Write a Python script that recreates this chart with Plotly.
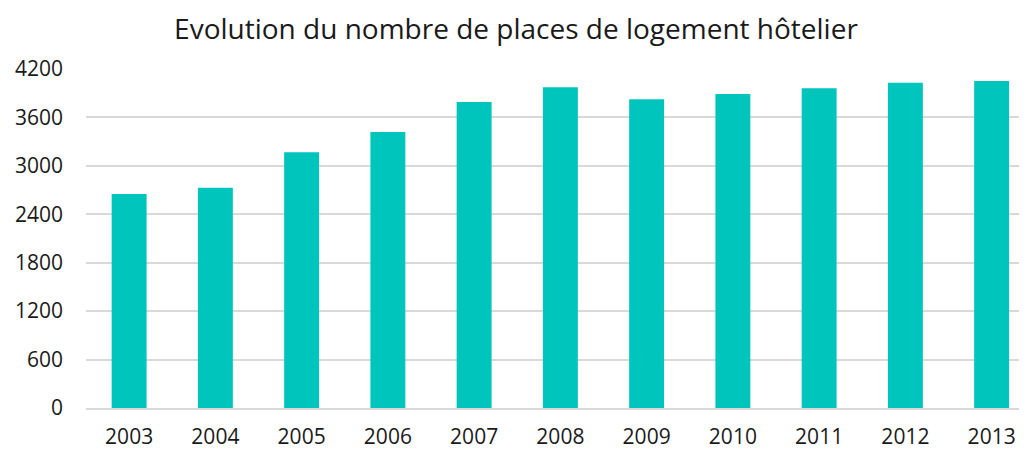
import plotly.graph_objects as go

years = ["2003", "2004", "2005", "2006", "2007", "2008", "2009", "2010", "2011", "2012", "2013"]
places = [2650, 2730, 3170, 3420, 3790, 3975, 3825, 3890, 3960, 4030, 4050]
y_ticks = [0, 600, 1200, 1800, 2400, 3000, 3600, 4200]

fig = go.Figure(go.Bar(x=years, y=places, marker=dict(color="#00C5BC", line=dict(width=0))))

fig.update_layout(
    width=1019, height=442,
    margin=dict(l=78, r=0, t=61, b=42),
    plot_bgcolor="white", paper_bgcolor="white",
    font=dict(family="'Open Sans', sans-serif", size=21, color="#1a1a1a"),
    title=dict(text="Evolution du nombre de places de logement hôtelier",
               x=0.4985, xref="container", xanchor="center", y=1 - 21 / 442, yanchor="middle",
               font=dict(size=28, color="#1a1a1a")),
    bargap=0.595,
    showlegend=False,
)
fig.update_xaxes(type="category", range=[-0.5, 10.41], showgrid=False, ticks="",
                 showline=True, linecolor="#d9d9d9", linewidth=1.5, ticklabelstandoff=9)
fig.update_yaxes(range=[0, 4200], tickvals=y_ticks, showgrid=True, gridcolor="#d9d9d9",
                 gridwidth=1.5, zeroline=False, ticks="", ticklabelstandoff=22)

fig.write_html("out.html")
